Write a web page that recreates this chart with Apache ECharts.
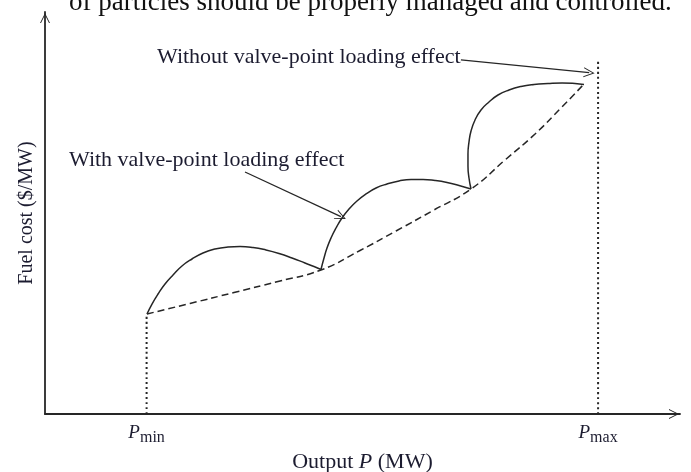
<!DOCTYPE html>
<html>
<head>
<meta charset="utf-8">
<script src="https://cdn.jsdelivr.net/npm/echarts@6/dist/echarts.min.js"></script>
<style>
  html, body { margin: 0; padding: 0; background: #fff; }
  #chart { width: 691px; height: 472px; }
</style>
</head>
<body>
<div id="chart"></div>
<script>
// x: output P (0-100 scale), y: fuel cost (0-100 scale)
const pMin = 16.0;
const pMax = 87.1;
const arcOne = [[16.06,24.88],[16.85,27.36],[17.80,29.85],[18.90,32.34],[20.16,34.58],[21.57,36.82],[23.15,38.56],[24.88,40.05],[26.77,41.04],[28.82,41.54],[30.71,41.67],[32.76,41.42],[34.80,40.80],[36.85,39.93],[38.90,38.81],[40.94,37.56],[42.36,36.69],[43.46,35.95]];
const arcTwo = [[43.46,35.95],[43.94,38.81],[44.41,41.29],[45.04,43.78],[45.83,46.27],[46.77,48.76],[47.87,50.99],[49.13,52.99],[50.55,54.73],[52.13,56.22],[53.86,57.21],[55.75,57.96],[57.64,58.33],[59.53,58.33],[61.42,58.08],[63.31,57.59],[65.20,56.84],[67.09,55.97]];
const arcThree = [[67.09,55.97],[66.77,58.71],[66.61,61.69],[66.61,64.68],[66.77,67.66],[67.09,70.40],[67.72,73.13],[68.66,75.62],[69.92,77.61],[71.34,79.35],[73.07,80.60],[74.96,81.47],[77.01,81.97],[79.21,82.21],[81.42,82.34],[83.46,82.21],[84.88,81.97]];
const noValve = [[16.06,24.88],[22.83,27.49],[29.76,30.22],[36.69,32.96],[43.46,35.82],[49.61,40.67],[55.28,45.52],[61.26,50.75],[67.09,55.97],[72.44,63.18],[77.17,69.65],[81.26,76.12],[84.88,82.09]];
const pMinTop = 24.9;
const pMaxTop = 88.1;
const withArrow = [[31.5,60.2],[46.6,49.1]];
const withoutArrow = [[65.5,88.1],[85.7,84.9]];

const ink = '#262626';
const textInk = '#1c1c30';
const serif = '"Liberation Serif", "DejaVu Serif", serif';
const chevron = 'path://M0,10 L5,0 L10,10 L9,10 L5,2 L1,10 Z';

let myChart = echarts.init(document.getElementById('chart'), null, {renderer: 'canvas'});

function curve(data, dash, width) {
    return {
        type: 'line',
        data: data,
        smooth: true,
        symbol: 'none',
        silent: true,
        lineStyle: {color: ink, width: width || 1.5, type: dash || 'solid'}
    };
}
function arrow(pts) {
    return {
        type: 'line',
        data: [],
        silent: true,
        markLine: {
            silent: true,
            symbol: ['none', chevron],
            symbolSize: [10, 11],
            label: {show: false},
            lineStyle: {color: ink, width: 1.3, type: 'solid'},
            data: [[{coord: pts[0]}, {coord: pts[1]}]]
        }
    };
}

let option = {
    animation: false,
    grid: {left: 45, right: 11, top: 12, bottom: 58, outerBoundsMode: 'none', containLabel: false},
    xAxis: {
        type: 'value',
        min: 0,
        max: 100,
        splitLine: {show: false},
        axisTick: {show: false},
        axisLine: {
            lineStyle: {color: ink, width: 1.8},
            symbol: ['none', chevron],
            symbolSize: [10, 12],
            symbolOffset: [0, -6]
        },
        axisLabel: {
            customValues: [pMin, pMax],
            margin: 9,
            formatter: function (v) {
                return v === pMin ? '{p|P}{s|min}' : '{p|P}{s|max}';
            },
            rich: {
                p: {fontFamily: serif, fontStyle: 'italic', fontSize: 19, color: textInk, lineHeight: 20, verticalAlign: 'top'},
                s: {fontFamily: serif, fontSize: 16, color: textInk, lineHeight: 30, verticalAlign: 'middle'}
            }
        },
        name: '{n|Output }{i|P}{n| (MW)}',
        nameLocation: 'middle',
        nameGap: 33,
        nameTextStyle: {
            rich: {
                n: {fontFamily: serif, fontSize: 22, color: textInk},
                i: {fontFamily: serif, fontSize: 22, fontStyle: 'italic', color: textInk}
            }
        }
    },
    yAxis: {
        type: 'value',
        min: 0,
        max: 100,
        splitLine: {show: false},
        axisTick: {show: false},
        axisLabel: {show: false},
        axisLine: {
            lineStyle: {color: ink, width: 1.8},
            symbol: ['none', chevron],
            symbolSize: [10, 12],
            symbolOffset: [0, -6]
        },
        name: 'Fuel cost ($/MW)',
        nameLocation: 'middle',
        nameRotate: 90,
        nameGap: 8,
        nameTextStyle: {fontFamily: serif, fontSize: 20, color: textInk}
    },
    graphic: [
        {
            type: 'text', left: 69, top: -11, silent: true,
            style: {text: 'of particles should be properly managed and controlled.', font: '27px ' + serif, fill: '#111'}
        },
        {
            type: 'text', left: 157, top: 46, silent: true,
            style: {text: 'Without valve-point loading effect', font: '22px ' + serif, fill: textInk}
        },
        {
            type: 'text', left: 69, top: 149, silent: true,
            style: {text: 'With valve-point loading effect', font: '22px ' + serif, fill: textInk}
        }
    ],
    series: [
        curve(arcOne),
        curve(arcTwo),
        curve(arcThree),
        curve(noValve, [7, 4]),
        curve([[pMin, 0], [pMin, pMinTop]], [2, 3], 2),
        curve([[pMax, 0], [pMax, pMaxTop]], [2, 3], 2),
        arrow(withArrow),
        arrow(withoutArrow)
    ]
};
myChart.setOption(option);
</script>
</body>
</html>
